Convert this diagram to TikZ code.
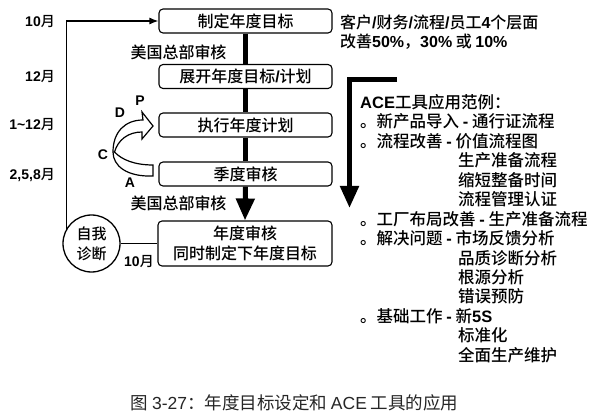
\documentclass[tikz,border=0pt]{standalone}
\usepackage{fontspec}
\setmainfont{Noto Sans CJK SC}[BoldFont={Noto Sans CJK SC Medium}]
\newfontfamily\latf{Liberation Sans}
\newcommand\lb[1]{{\latf\bfseries #1}}
\usetikzlibrary{arrows.meta}
\begin{document}
\begin{tikzpicture}[x=1pt,y=-1pt,
  box/.style={draw, line width=1.1pt, rounded corners=4pt, minimum width=173pt,
    minimum height=24pt, inner sep=0pt, align=center,
    font=\bfseries\fontsize{16}{20}\selectfont},
  lbl/.style={font=\bfseries\fontsize{14}{16}\selectfont, inner sep=0pt},
  txt/.style={font=\bfseries\fontsize{16}{19}\selectfont, inner sep=0pt, anchor=west},
  ace/.style={font=\bfseries\fontsize{16.5}{19}\selectfont, inner sep=0pt, anchor=west},
  bigline/.style={line width=5pt},
  bighead/.style={-{Triangle[length=22pt,width=18pt]}},
  thin/.style={line width=1.3pt},
]
\useasboundingbox (0,0) rectangle (590,417);
\fill[white] (0,0) rectangle (590,417);

% main boxes
\node[box] (b1) at (245.5,21) {制定年度目标};
\node[box] (b2) at (245.5,76.5) {展开年度目标\lb{/}计划};
\node[box] (b3) at (245.5,125) {执行年度计划};
\node[box] (b4) at (245.5,174) {季度审核};
\node[box, minimum height=45pt, minimum width=174pt] (b5) at (245,243.5) {年度审核\\同时制定下年度目标};

% thick spine
\draw[bigline] (b1.south) -- (b2.north);
\draw[bigline] (b2.south) -- (b3.north);
\draw[bigline] (b3.south) -- (b4.north);
\draw[bigline, bighead] (b4.south) -- (b5.north);

% review labels
\node[lbl, font=\bfseries\fontsize{16}{19}\selectfont] (r1) at (178.5,52) {美国总部审核};
\node[lbl, font=\bfseries\fontsize{16}{19}\selectfont] (r2) at (178.5,203) {美国总部审核};

% month labels
\node[lbl, anchor=east] (m1) at (55,22) {\lb{10}月};
\node[lbl, anchor=east] (m2) at (55,77) {\lb{12}月};
\node[lbl, anchor=east] (m3) at (55,125) {\lb{1\textasciitilde12}月};
\node[lbl, anchor=east] (m4) at (55,175) {\lb{2,5,8}月};

% self diagnosis circle
\node[circle, draw, thin, minimum size=57pt, inner sep=0pt, align=center,
  font=\bfseries\fontsize{15}{20}\selectfont] (circ) at (91.5,243.5) {自我\\诊断};
\draw[thin] (circ) -- (b5);
\node[lbl] (m5) at (139,262) {\lb{10}月};
\draw[thin, -{Latex[length=9pt,width=7pt]}] (circ.150) |- (b1.west);

% PDCA curved arrow
\draw[line width=1.2pt, fill=white, line join=miter]
  (153,165) -- (153,176)
  .. controls (127,177) and (113,166) .. (113,152)
  .. controls (113,132) and (125,120) .. (143,120)
  -- (142,112) -- (153,126) -- (142,139) -- (142,132)
  .. controls (128,132) and (118,140) .. (114.5,152)
  .. controls (122,160) and (135,165) .. (153,165) -- cycle;
\node[lbl] (pP) at (140,101) {\lb{P}};
\node[lbl] (pD) at (120,113) {\lb{D}};
\node[lbl] (pC) at (103,155) {\lb{C}};
\node[lbl] (pA) at (130,183) {\lb{A}};

% right top text
\node[txt] (t1) at (340,22) {客户\lb{/}财务\lb{/}流程\lb{/}员工\lb{4}个层面};
\node[txt] (t2) at (340,42) {改善\lb{50\%}，\lb{30\%} 或 \lb{10\%}};

% ACE bracket arrow
\coordinate (k1) at (397,79.5);
\coordinate (k2) at (349.5,79.5);
\coordinate (k3) at (349.5,208);
\draw[bigline, bighead] (k1) -- (k2) -- (k3);

% ACE list
\node[ace] (a0) at (360,102) {\lb{ACE}工具应用范例：};
\node[ace] (a1) at (360,121.5) {。新产品导入 \lb{-} 通行证流程};
\node[ace] (a2) at (360,141) {。流程改善 \lb{-} 价值流程图};
\node[ace] (a3) at (458,160) {生产准备流程};
\node[ace] (a4) at (458,180) {缩短整备时间};
\node[ace] (a5) at (458,199) {流程管理认证};
\node[ace] (a6) at (360,219) {。工厂布局改善 \lb{-} 生产准备流程};
\node[ace] (a7) at (360,238) {。解决问题 \lb{-} 市场反馈分析};
\node[ace] (a8) at (458,258) {品质诊断分析};
\node[ace] (a9) at (458,277) {根源分析};
\node[ace] (a10) at (458,296.5) {错误预防};
\node[ace] (a11) at (360,316) {。基础工作 \lb{-} 新\lb{5S}};
\node[ace] (a12) at (458,335) {标准化};
\node[ace] (a13) at (458,355) {全面生产维护};

% caption
\node[inner sep=0pt, text=black!85, font=\fontsize{17.5}{20}\selectfont] (cap) at (294.5,403)
  {图 {\latf 3-27}：年度目标设定和 {\latf ACE} 工具的应用};
\end{tikzpicture}
\end{document}
